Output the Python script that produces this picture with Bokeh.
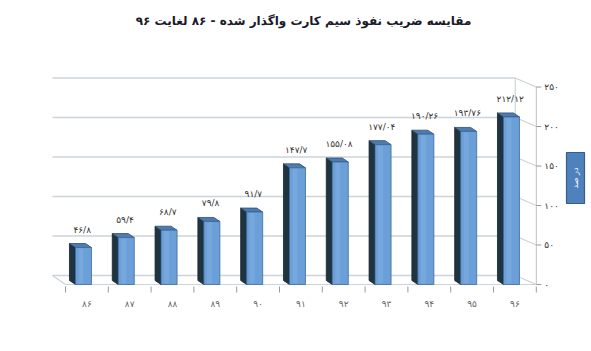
import numpy as np
from bokeh.plotting import figure
from bokeh.models import Range1d, Label
from bokeh.core.properties import value
from bokeh.embed import file_html
from bokeh.resources import INLINE

# ---- data ----
years = ["۸۶", "۸۷", "۸۸", "۸۹", "۹۰", "۹۱", "۹۲", "۹۳", "۹۴", "۹۵", "۹۶"]
values = [46.8, 59.4, 68.7, 79.8, 91.7, 147.7, 155.08, 177.04, 190.26, 193.76, 212.12]
y_ticks = [0, 50, 100, 150, 200, 250]
title_text = "مقایسه ضریب نفوذ سیم کارت واگذار شده - ۸۶ لغایت ۹۶"
axis_title = "در صد"

FA = str.maketrans("0123456789.", "۰۱۲۳۴۵۶۷۸۹/")
def fa(v):
    return str(v).translate(FA)

value_labels = [fa(v) for v in values]
y_tick_labels = [fa(t) for t in y_ticks]

# ---- geometry (pixels -> data units) ----
W, H = 591, 351
PX = 42.8          # px per category
PY = 0.79          # px per value unit
X0 = 86.4          # px of first category
Y0 = 284.0         # px (from top) of value 0 at the front
xs_, xe_ = -X0 / PX, (W - X0) / PX
ys_, ye_ = -(H - Y0) / PY, Y0 / PY
ux = lambda px: px / PX
uy = lambda px: px / PY

FONT = "DejaVu Sans"

p = figure(width=W, height=H, x_range=Range1d(xs_, xe_), y_range=Range1d(ys_, ye_),
           output_backend="svg", toolbar_location=None, min_border=0,
           x_axis_type=None, y_axis_type=None)
p.grid.visible = False
p.outline_line_color = None
p.background_fill_color = "white"
p.border_fill_color = "white"

n = len(values)
idx = np.arange(n)
front_l, front_r = -0.5, n - 0.5
back_l, back_r = -0.5 - ux(13), n - 0.5 - ux(21)
back_dy = uy(9)
grid_col = "#cdd3da"

# back wall gridlines
gy = [t + back_dy for t in y_ticks]
p.segment(x0=[back_l] * len(gy), y0=gy, x1=[back_r] * len(gy), y1=gy,
          line_color=grid_col, line_width=1.4)
# side wall diagonals
p.segment(x0=[back_r] * len(gy), y0=gy, x1=[front_r] * len(gy), y1=y_ticks,
          line_color=grid_col, line_width=1.2)
# back right edge
p.segment(x0=[back_r], y0=[back_dy], x1=[back_r], y1=[y_ticks[-1] + back_dy],
          line_color=grid_col, line_width=1.2)
# floor
p.segment(x0=[front_l, front_l], y0=[0, 0], x1=[front_r, back_l], y1=[0, back_dy],
          line_color=grid_col, line_width=1.2)
# front vertical axis
p.segment(x0=[front_r], y0=[0], x1=[front_r], y1=[y_ticks[-1]],
          line_color="#c0c0c0", line_width=1)
p.segment(x0=[front_r] * len(y_ticks), y0=y_ticks, x1=[front_r + ux(5)] * len(y_ticks), y1=y_ticks,
          line_color="#999999", line_width=1)
p.text(x=[front_r + ux(8)] * len(y_ticks), y=y_ticks, text=y_tick_labels,
       text_font=value(FONT), text_font_size="9px", text_color="#333333",
       text_align="left", text_baseline="middle")

# x ticks (between categories) and labels
bnd = np.arange(n + 1) - 0.5
p.segment(x0=bnd, y0=[-uy(2)] * (n + 1), x1=bnd, y1=[-uy(8)] * (n + 1),
          line_color="#9a9a9a", line_width=1)
p.text(x=idx, y=[-uy(19)] * n, text=years,
       text_font=value(FONT), text_font_size="9px", text_color="#666666",
       text_align="center", text_baseline="middle")

# bars (pseudo 3D)
bc = idx - 0.08
hw = ux(8)
ddx, ddy = -ux(6), uy(4)
left = bc - hw
right = bc + hw
side_xs = [[l, l + ddx, l + ddx, l] for l in left]
side_ys = [[0, ddy, v + ddy, v] for v in values]
p.patches(xs=side_xs, ys=side_ys, fill_color="#1f3441", line_color="#15232c", line_width=0.8)
top_xs = [[l, r, r + ddx, l + ddx] for l, r in zip(left, right)]
top_ys = [[v, v, v + ddy, v + ddy] for v in values]
p.patches(xs=top_xs, ys=top_ys, fill_color="#4f7cb0", line_color="#2e4c70", line_width=0.8)
p.quad(left=left, right=right, bottom=[0] * n, top=values,
       fill_color="#6b9fd8", line_color="#3d6a9c", line_width=0.8)
# subtle highlight stripe
p.quad(left=left + ux(3), right=left + ux(8), bottom=[uy(1)] * n, top=[v - uy(1) for v in values],
       fill_color="#84b2e4", fill_alpha=0.45, line_color=None)

# value labels
p.text(x=bc - 0.03, y=[v + uy(18) for v in values], text=value_labels,
       text_font=value(FONT), text_font_size="9px", text_color="#333333",
       text_align="center", text_baseline="middle")

# axis title box
bx0, bx1 = ux(566 - X0), ux(584 - X0)
by0, by1 = uy(Y0 - 203), uy(Y0 - 152)
p.quad(left=[bx0], right=[bx1], bottom=[by0], top=[by1],
       fill_color="#4f81bd", line_color="#385d8a", line_width=1.2)
p.add_layout(Label(x=(bx0 + bx1) / 2, y=(by0 + by1) / 2, text=axis_title, angle=np.pi / 2,
                   text_font=FONT, text_font_size="8px", text_color="white",
                   text_align="center", text_baseline="middle"))

# title
p.add_layout(Label(x=ux(303 - X0), y=uy(Y0 - 20), text=title_text,
                   text_font=FONT, text_font_size="12px", text_font_style="bold",
                   text_color="#1a1a2a", text_align="center", text_baseline="middle"))

open("out.html", "w").write(file_html(p, INLINE))
